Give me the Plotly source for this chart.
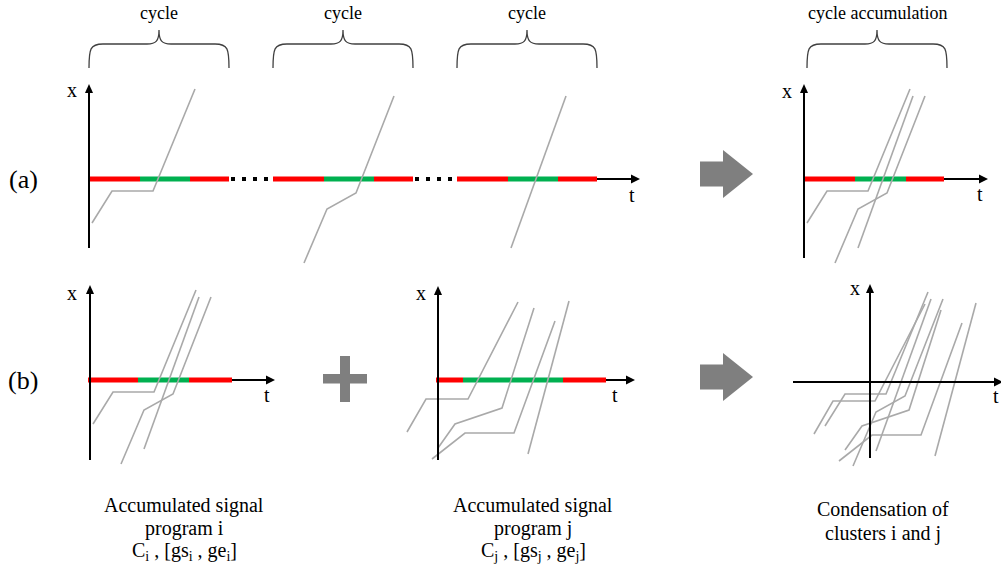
import plotly.graph_objects as go

# ---------------- data (panel-local units: t to the right of the x axis, x above the t axis) ----------------
# phase boundaries (red | green | red) of one signal cycle
phases_cycle = [0, 51, 101, 140]          # cycles in (a)
phases_accum = [0, 51, 102, 140]          # cycle accumulation in (a)
phases_i = [-2, 48, 99, 142]              # program i in (b)
phases_j = [-2, 25, 125, 168]             # program j in (b)
phase_colors = ["#FF0000", "#00B050", "#FF0000"]

# vehicle trajectories of program i (one per cycle in (a))
traj_i_t = [[3, 23, 64, 106], [31, 54, 83, 121], [54, 109]]
traj_i_x = [[-44, -12, -12, 90], [-84, -30, -14, 83], [-69, 83]]

# vehicle trajectories of program j
traj_j_t = [[-31, -12, 30, 80], [0, 17, 64, 96], [-6, 27, 76, 117], [90, 131]]
traj_j_x = [[-52, -19, -19, 78], [-68, -44, -28, 72], [-79, -53, -53, 59], [-74, 79]]

cycle_labels = ["cycle", "cycle", "cycle"]
accum_label = "cycle accumulation"
caption_i = ["Accumulated signal", "program i", "C<sub>i</sub> , [gs<sub>i</sub> , ge<sub>i</sub>]"]
caption_j = ["Accumulated signal", "program j", "C<sub>j</sub> , [gs<sub>j</sub> , ge<sub>j</sub>]"]
caption_c = ["Condensation of", "clusters i and j"]

# ---------------- layout constants (pixel canvas) ----------------
W, H = 1001, 568
FONT = "Liberation Serif, Times New Roman, serif"
GREY_LINE = "#A9A9A9"
BLOCK = "#7F7F7F"

fig = go.Figure()
shapes = []
annos = []


def traj(ox, oy, ts, xs, shift=0):
    for t, x in zip(ts, xs):
        fig.add_trace(go.Scatter(x=[ox + v + shift for v in t], y=[oy - v for v in x], mode="lines",
                                 line=dict(color=GREY_LINE, width=1.6), hoverinfo="skip", showlegend=False))


def bars(ox, oy, ph):
    for k in range(3):
        fig.add_trace(go.Scatter(x=[ox + ph[k], ox + ph[k + 1]], y=[oy, oy], mode="lines",
                                 line=dict(color=phase_colors[k], width=5), hoverinfo="skip", showlegend=False))


def vaxis(x, ybot, ytip):
    shapes.append(dict(type="line", x0=x, x1=x, y0=ybot, y1=ytip + 6, line=dict(color="black", width=2)))
    shapes.append(dict(type="path", path=f"M{x},{ytip} L{x-4},{ytip+9} L{x+4},{ytip+9} Z",
                       fillcolor="black", line=dict(width=0)))


def haxis(x0, xtip, y):
    shapes.append(dict(type="line", x0=x0, x1=xtip - 6, y0=y, y1=y, line=dict(color="black", width=2)))
    shapes.append(dict(type="path", path=f"M{xtip},{y} L{xtip-9},{y-4.5} L{xtip-9},{y+4.5} Z",
                       fillcolor="black", line=dict(width=0)))


def brace(x0, x1, yb=68, ym=44, yt=30):
    xc = (x0 + x1) / 2
    p = (f"M{x0},{yb} C{x0},{ym+5} {x0+1},{ym} {x0+14},{ym} L{xc-12},{ym} "
         f"C{xc-3},{ym} {xc},{ym-3} {xc},{yt} C{xc},{ym-3} {xc+3},{ym} {xc+12},{ym} "
         f"L{x1-14},{ym} C{x1-1},{ym} {x1},{ym+5} {x1},{yb}")
    shapes.append(dict(type="path", path=p, line=dict(color="#404040", width=1.3)))


def text(x, y, s, size=18):
    annos.append(dict(x=x, y=y, xref="x", yref="y", text=s, showarrow=False, xanchor="center",
                      yanchor="middle", font=dict(family=FONT, size=size, color="black")))


# ---------------- (a) cycles ----------------
cyc_origins = [89, 273, 457]
BASE_A = 179
vaxis(89, 248, 84)
for k, ox in enumerate(cyc_origins):
    bars(ox, BASE_A, phases_cycle)
    brace(ox + phases_cycle[0], ox + phases_cycle[-1])
    text(ox + phases_cycle[-1] / 2, 13, cycle_labels[k])
for a, b in [(cyc_origins[0] + phases_cycle[-1], cyc_origins[1]), (cyc_origins[1] + phases_cycle[-1], cyc_origins[2])]:
    fig.add_trace(go.Scatter(x=[a + 2, b], y=[BASE_A, BASE_A], mode="lines",
                             line=dict(color="black", width=4, dash="4px,7px"), hoverinfo="skip", showlegend=False))
for k, ox in enumerate(cyc_origins):
    traj(ox, BASE_A, [traj_i_t[k]], [traj_i_x[k]])
haxis(cyc_origins[2] + phases_cycle[-1], 640, BASE_A)
text(72, 90, "x", 20)
text(632, 195, "t", 20)
text(23, 179, "(a)", 26)

# ---------------- (a) cycle accumulation ----------------
OX_ACC = 804
vaxis(OX_ACC, 258, 84)
bars(OX_ACC, BASE_A, phases_accum)
traj(OX_ACC, BASE_A, traj_i_t, traj_i_x)
haxis(OX_ACC + phases_accum[-1], 988, BASE_A)
brace(OX_ACC + 3, OX_ACC + 143)
text(OX_ACC + 73, 13, accum_label)
text(787, 91, "x", 20)
text(980, 194, "t", 20)

# ---------------- (b) program i ----------------
OX_I, BASE_B = 90, 380
vaxis(OX_I, 460, 285)
bars(OX_I, BASE_B, phases_i)
traj(OX_I, BASE_B, traj_i_t, traj_i_x)
haxis(OX_I + phases_i[-1], 275, BASE_B)
text(72, 293, "x", 20)
text(267, 395, "t", 20)
text(23, 380, "(b)", 26)

# ---------------- (b) program j ----------------
OX_J = 438
vaxis(OX_J, 460, 286)
bars(OX_J, BASE_B, phases_j)
traj(OX_J, BASE_B, traj_j_t, traj_j_x)
haxis(OX_J + phases_j[-1], 635, BASE_B)
text(421, 293, "x", 20)
text(615, 395, "t", 20)

# ---------------- (b) condensation ----------------
OX_C, BASE_C = 870, 382
vaxis(OX_C, 458, 284)
haxis(793, 1003, BASE_C)
traj(OX_C, BASE_C, traj_i_t, traj_i_x, shift=-phases_i[1])
traj(OX_C, BASE_C, traj_j_t, traj_j_x, shift=-phases_j[1])
text(855, 288, "x", 20)
text(996, 396, "t", 20)

# captions
for k, s in enumerate(caption_i):
    text(184, 505 + 23 * k, s, 20)
for k, s in enumerate(caption_j):
    text(533, 505 + 23 * k, s, 20)
for k, s in enumerate(caption_c):
    text(883, 509 + 24 * k, s, 20)

# big grey arrows and plus sign
for yc in (174, 377):
    shapes.append(dict(type="path",
                       path=f"M700,{yc-12.5} L723,{yc-12.5} L723,{yc-24} L753,{yc} L723,{yc+24} L723,{yc+12.5} L700,{yc+12.5} Z",
                       fillcolor=BLOCK, line=dict(width=0)))
shapes.append(dict(type="path",
                   path="M323,374 L340,374 L340,356 L350,356 L350,374 L367,374 L367,383.5 L350,383.5 L350,402 L340,402 L340,383.5 L323,383.5 Z",
                   fillcolor=BLOCK, line=dict(width=0)))

fig.update_layout(
    width=W, height=H, margin=dict(l=0, r=0, t=0, b=0),
    paper_bgcolor="white", plot_bgcolor="white",
    xaxis=dict(range=[0, W], visible=False, fixedrange=True),
    yaxis=dict(range=[H, 0], visible=False, fixedrange=True),
    shapes=shapes, annotations=annos, showlegend=False,
)
fig.write_html("out.html", config={"displayModeBar": False},
               post_script="document.body.style.margin='0px';")
